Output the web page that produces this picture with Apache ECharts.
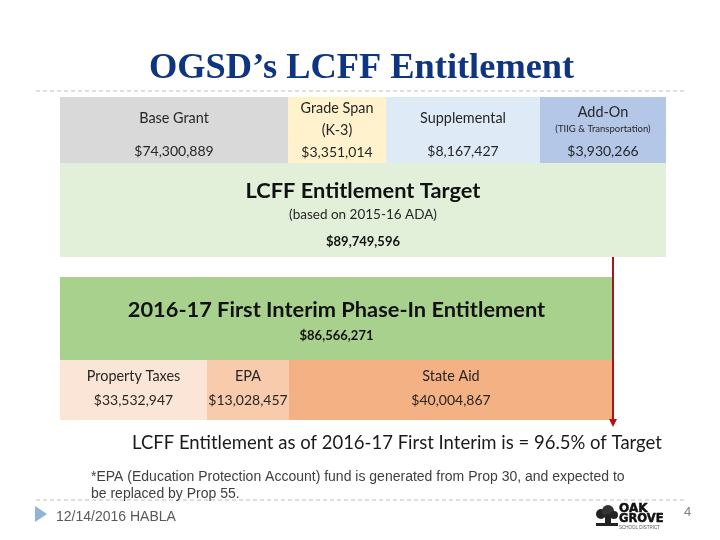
<!DOCTYPE html>
<html>
<head>
<meta charset="utf-8">
<style>html,body{margin:0;padding:0;background:#fff}#main{width:720px;height:540px}</style>
<script src="https://cdn.jsdelivr.net/npm/echarts@6/dist/echarts.min.js"></script>
</head>
<body>
<div id="main"></div>
<script>
// dollars shown on the slide
var targetParts = ['Base Grant', 'Grade Span', 'Supplemental', 'Add-On'];
var targetPartValues = [74300889, 3351014, 8167427, 3930266];
var targetName = 'LCFF Entitlement Target';
var targetValue = 89749596;
var phaseInName = '2016-17 First Interim Phase-In Entitlement';
var phaseInValue = 86566271;
var phaseInParts = ['Property Taxes', 'EPA', 'State Aid'];
var phaseInPartValues = [33532947, 13028457, 40004867];

// the blocks on the slide are schematic, not to scale, so widths are layout
var rowLayout = [
    {top: 97, height: 66, widths: [228, 98, 154, 126], colors: ['#d9d9d9', '#fff2cc', '#deebf7', '#b4c7e7']},
    {top: 163, height: 94, widths: [606], colors: ['#e2f0d9']},
    {top: 277, height: 83, widths: [553], colors: ['#a9d18e']},
    {top: 360, height: 60, widths: [147, 82, 324], colors: ['#fbe5d6', '#f8cbad', '#f4b183']}
];

var FONT = 'Lato';

function money(v) {
    return '$' + v.toLocaleString('en-US');
}

var richText = {
    n: {fontFamily: FONT, fontSize: 14.4, color: '#262626', lineHeight: 33},
    v: {fontFamily: FONT, fontSize: 14, color: '#262626', lineHeight: 33},
    g: {fontFamily: FONT, fontSize: 14.4, color: '#262626', lineHeight: 22},
    gv: {fontFamily: FONT, fontSize: 14, color: '#262626', lineHeight: 22},
    a: {fontFamily: FONT, fontSize: 14.4, color: '#262626', lineHeight: 17},
    s: {fontFamily: FONT, fontSize: 9.5, color: '#262626', lineHeight: 15},
    av: {fontFamily: FONT, fontSize: 14, color: '#262626', lineHeight: 30},
    big: {fontFamily: FONT, fontSize: 21.8, fontWeight: 'bold', color: '#111', lineHeight: 23},
    sub: {fontFamily: FONT, fontSize: 13.5, color: '#262626', lineHeight: 25},
    bv: {fontFamily: FONT, fontSize: 13, fontWeight: 'bold', color: '#111', lineHeight: 30},
    p: {fontFamily: FONT, fontSize: 14.4, color: '#262626', lineHeight: 24},
    pv: {fontFamily: FONT, fontSize: 14, color: '#262626', lineHeight: 24}
};

var rowLabels = [
    [
        {text: '{n|' + targetParts[0] + '}\n{v|' + money(targetPartValues[0]) + '}', offset: [0, 5]},
        {text: '{g|' + targetParts[1] + '}\n{g|(K-3)}\n{gv|' + money(targetPartValues[1]) + '}', offset: [0, 0]},
        {text: '{n|' + targetParts[2] + '}\n{v|' + money(targetPartValues[2]) + '}', offset: [0, 5]},
        {text: '{a|' + targetParts[3] + '}\n{s|(TIIG & Transportation)}\n{av|' + money(targetPartValues[3]) + '}', offset: [0, 5]}
    ],
    [
        {text: '{big|' + targetName + '}\n{sub|(based on 2015-16 ADA)}\n{bv|' + money(targetValue) + '}', offset: [0, 8]}
    ],
    [
        {text: '{big|' + phaseInName + '}\n{bv|' + money(phaseInValue) + '}', offset: [0, 6]}
    ],
    [
        {text: '{p|' + phaseInParts[0] + '}\n{pv|' + money(phaseInPartValues[0]) + '}', offset: [0, -2]},
        {text: '{p|' + phaseInParts[1] + '}\n{pv|' + money(phaseInPartValues[1]) + '}', offset: [0, -2]},
        {text: '{p|' + phaseInParts[2] + '}\n{pv|' + money(phaseInPartValues[2]) + '}', offset: [0, -2]}
    ]
];

var grids = [], xAxes = [], yAxes = [], series = [];

rowLayout.forEach(function (row, r) {
    grids.push({left: 60, width: 606, top: row.top, height: row.height});
    xAxes.push({type: 'value', gridIndex: r, min: 0, max: 606, show: false});
    yAxes.push({type: 'category', gridIndex: r, data: ['row' + r], show: false});
    row.widths.forEach(function (w, i) {
        series.push({
            type: 'bar',
            xAxisIndex: r,
            yAxisIndex: r,
            stack: 'row' + r,
            barWidth: '100%',
            silent: true,
            itemStyle: {color: row.colors[i]},
            label: {
                show: true,
                position: 'inside',
                offset: rowLabels[r][i].offset,
                formatter: rowLabels[r][i].text,
                rich: richText
            },
            data: [w]
        });
    });
});

var option = {
    animation: false,
    backgroundColor: '#fff',
    title: [
        {text: 'OGSD\u2019s LCFF Entitlement', left: 149, top: 51, padding: 0,
            textStyle: {fontFamily: 'Liberation Serif', fontSize: 36.4, fontWeight: 'bold', color: '#0f3580'}},
        {text: 'LCFF Entitlement as of 2016-17 First Interim is = 96.5% of Target', left: 132, top: 434, padding: 0,
            textStyle: {fontFamily: FONT, fontSize: 18.5, fontWeight: 'normal', color: '#1a1a1a'}},
        {text: '*EPA (Education Protection Account) fund is generated from Prop 30, and expected to\nbe replaced by Prop 55.', left: 91, top: 469, padding: 0,
            textStyle: {fontFamily: 'Liberation Sans', fontSize: 14, fontWeight: 'normal', color: '#404040', lineHeight: 17}},
        {text: '12/14/2016 HABLA', left: 56, top: 510, padding: 0,
            textStyle: {fontFamily: 'Liberation Sans', fontSize: 14, fontWeight: 'normal', color: '#595959'}},
        {text: '4', left: 684, top: 506, padding: 0,
            textStyle: {fontFamily: 'Liberation Sans', fontSize: 13, fontWeight: 'normal', color: '#7f7f7f'}}
    ],
    grid: grids,
    xAxis: xAxes,
    yAxis: yAxes,
    series: series,
    graphic: [
        // slide chrome
        {type: 'line', shape: {x1: 36, y1: 91, x2: 686, y2: 91}, style: {stroke: '#bfbfbf', lineWidth: 1, lineDash: [4, 3]}},
        {type: 'line', shape: {x1: 36, y1: 500, x2: 686, y2: 500}, style: {stroke: '#bfbfbf', lineWidth: 1, lineDash: [4, 3]}},
        {type: 'polygon', shape: {points: [[35, 506], [35, 522], [47, 514]]}, style: {fill: '#8eb4d6'}},
        // arrow from target down to the phase-in total
        {type: 'line', z: 10, shape: {x1: 613, y1: 257, x2: 613, y2: 421}, style: {stroke: '#a8141c', lineWidth: 2}},
        {type: 'polygon', z: 10, shape: {points: [[609, 419], [617, 419], [613, 427]]}, style: {fill: '#a8141c'}},
        // logo
        {type: 'circle', shape: {cx: 601, cy: 514, r: 5}, style: {fill: '#222'}},
        {type: 'circle', shape: {cx: 608, cy: 511, r: 6}, style: {fill: '#333'}},
        {type: 'circle', shape: {cx: 614, cy: 515, r: 4}, style: {fill: '#222'}},
        {type: 'rect', shape: {x: 605, y: 514, width: 6, height: 12}, style: {fill: '#222'}},
        {type: 'rect', shape: {x: 596, y: 523, width: 22, height: 3}, style: {fill: '#222'}},
        {type: 'text', style: {x: 619, y: 503, text: 'OAK', fontFamily: 'DejaVu Sans', fontWeight: 'bold', fontSize: 12, fill: '#111', stroke: '#111', lineWidth: 0.5}},
        {type: 'text', style: {x: 619, y: 513, text: 'GROVE', fontFamily: 'DejaVu Sans', fontWeight: 'bold', fontSize: 11.5, fill: '#111', stroke: '#111', lineWidth: 0.5}},
        {type: 'text', style: {x: 619, y: 525, text: 'SCHOOL DISTRICT', fontFamily: 'Liberation Sans', fontSize: 4.5, fill: '#555'}}
    ]
};

var chart = echarts.init(document.getElementById('main'));
chart.setOption(option);
</script>
</body>
</html>
